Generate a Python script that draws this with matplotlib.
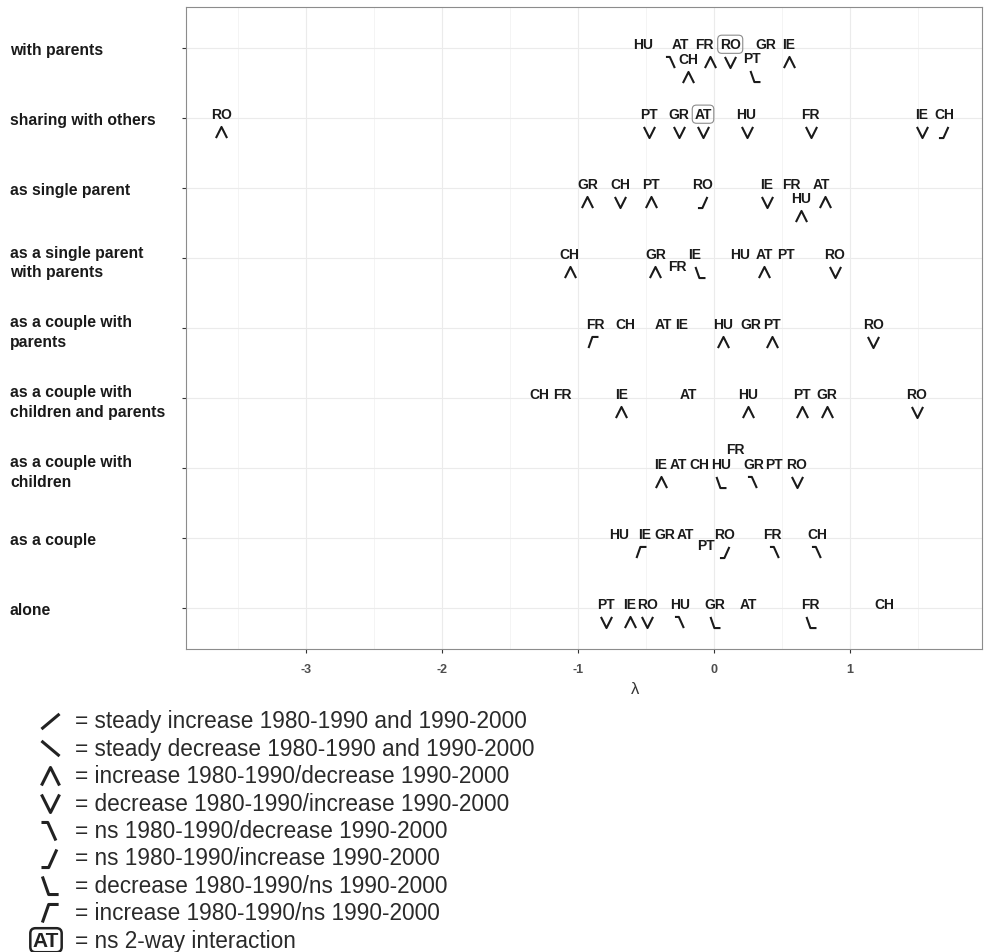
import numpy as np
import matplotlib
matplotlib.use("Agg")
import matplotlib.pyplot as plt
from matplotlib.path import Path
from matplotlib.transforms import offset_copy

plt.rcParams['font.family'] = ['Liberation Sans', 'DejaVu Sans']
plt.rcParams['axes.unicode_minus'] = False

# row categories, top to bottom
rows = ["with parents", "sharing with others", "as single parent",
        "as a single parent\nwith parents", "as a couple with\nparents",
        "as a couple with\nchildren and parents", "as a couple with\nchildren",
        "as a couple", "alone"]

# one entry per country label
lab_row = [0] * 8 + [1] * 8 + [2] * 8 + [3] * 8 + [4] * 8 + [5] * 8 + [6] * 8 + [7] * 8 + [8] * 8
lab_code = ["HU", "AT", "FR", "RO", "GR", "IE", "CH", "PT",
            "RO", "PT", "GR", "AT", "HU", "FR", "IE", "CH",
            "GR", "CH", "PT", "RO", "IE", "FR", "HU", "AT",
            "CH", "GR", "FR", "IE", "HU", "AT", "PT", "RO",
            "FR", "CH", "AT", "IE", "HU", "GR", "PT", "RO",
            "CH", "FR", "IE", "AT", "HU", "PT", "GR", "RO",
            "IE", "AT", "CH", "HU", "FR", "GR", "PT", "RO",
            "HU", "IE", "GR", "AT", "PT", "RO", "FR", "CH",
            "PT", "IE", "RO", "HU", "GR", "AT", "FR", "CH"]
lab_lambda = [-0.52, -0.25, -0.07, 0.12, 0.38, 0.55, -0.19, 0.28,
              -3.62, -0.48, -0.26, -0.08, 0.24, 0.71, 1.53, 1.69,
              -0.93, -0.69, -0.46, -0.08, 0.39, 0.57, 0.64, 0.79,
              -1.06, -0.43, -0.27, -0.14, 0.19, 0.37, 0.53, 0.89,
              -0.87, -0.65, -0.37, -0.24, 0.07, 0.27, 0.43, 1.17,
              -1.28, -1.11, -0.68, -0.19, 0.25, 0.65, 0.83, 1.49,
              -0.39, -0.26, -0.11, 0.05, 0.16, 0.29, 0.44, 0.61,
              -0.70, -0.51, -0.36, -0.21, -0.06, 0.08, 0.43, 0.76,
              -0.79, -0.62, -0.49, -0.25, 0.01, 0.25, 0.71, 1.25]
lab_trend = [None, "nsdec", "peak", "valley", None, "peak", "peak", "decns",
             "peak", "valley", "valley", "valley", "valley", "valley", "valley", "nsinc",
             "peak", "valley", "peak", "nsinc", "valley", None, "peak", "peak",
             "peak", "peak", None, "decns", None, "peak", None, "valley",
             "incns", None, None, None, "peak", None, "peak", "valley",
             None, None, "peak", None, "peak", "peak", "peak", "valley",
             "peak", None, None, "decns", None, "nsdec", None, "valley",
             None, "incns", None, None, None, "nsinc", "nsdec", "nsdec",
             "valley", "peak", "valley", "nsdec", "decns", None, "decns", None]
boxed = [(0, "RO"), (1, "AT")]

# label placement tweaks (pixels): vertical push-down and symbol x nudge
lab_shift = {(0, "CH"): 15, (0, "PT"): 14, (2, "HU"): 14, (3, "FR"): 12,
             (6, "FR"): -15, (7, "PT"): 11}
sym_dx = {(0, "AT"): -9, (0, "FR"): 6, (0, "PT"): 3, (2, "AT"): 4,
          (3, "IE"): 5, (4, "FR"): -3, (7, "IE"): -4, (7, "FR"): 3}

legend_keys = ["steadyinc", "steadydec", "peak", "valley", "nsdec",
               "nsinc", "decns", "incns", "box"]
legend_text = ["steady increase 1980-1990 and 1990-2000",
               "steady decrease 1980-1990 and 1990-2000",
               "increase 1980-1990/decrease 1990-2000",
               "decrease 1980-1990/increase 1990-2000",
               "ns 1980-1990/decrease 1990-2000",
               "ns 1980-1990/increase 1990-2000",
               "decrease 1980-1990/ns 1990-2000",
               "increase 1980-1990/ns 1990-2000",
               "ns 2-way interaction"]

# trend glyphs as open paths
glyphs = {
    "steadyinc": [(-0.5, -0.42), (0.5, 0.42)],
    "steadydec": [(-0.5, 0.42), (0.5, -0.42)],
    "peak": [(-0.5, -0.5), (0.0, 0.5), (0.5, -0.5)],
    "valley": [(-0.5, 0.5), (0.0, -0.5), (0.5, 0.5)],
    "nsdec": [(-0.5, 0.5), (-0.15, 0.5), (0.3, -0.5)],
    "nsinc": [(-0.5, -0.5), (-0.1, -0.5), (0.35, 0.5)],
    "decns": [(-0.45, 0.5), (-0.1, -0.5), (0.45, -0.5)],
    "incns": [(-0.45, -0.5), (-0.1, 0.5), (0.45, 0.5)],
}
markers = {k: Path(v) for k, v in glyphs.items()}

ink = '#1a1a1a'
fig = plt.figure(figsize=(9.85, 9.53), dpi=100)
ax = fig.add_axes([0.1888, 0.318, 0.8081, 0.6736])

n = len(rows)
ypos = {i: n - 1 - i for i in range(n)}

for r, code, lam, trend in zip(lab_row, lab_code, lab_lambda, lab_trend):
    y = ypos[r]
    shift = lab_shift.get((r, code), 0)
    box = None
    if (r, code) in boxed:
        box = dict(boxstyle='round,pad=0.15,rounding_size=0.3', fc='none', ec='#8c8c8c', lw=0.8)
    ax.annotate(code, (lam, y), xytext=(0, (4 - shift) * 0.72), textcoords='offset points',
                ha='center', va='center', fontsize=10, fontweight='bold', color=ink, bbox=box)
    if trend:
        tr = offset_copy(ax.transData, fig=fig, x=sym_dx.get((r, code), 0),
                         y=-(14 + shift), units='dots')
        ax.plot([lam], [y], marker=markers[trend], ms=8, mfc='none', mec=ink,
                mew=1.5, ls='none', transform=tr)

ax.set_xlim(-3.88, 1.97)
ax.set_ylim(-0.59, n - 1 + 0.59)
ax.set_xticks([-3, -2, -1, 0, 1])
ax.set_xticks(np.arange(-3.5, 2, 1), minor=True)
ax.set_yticks([ypos[i] for i in range(n)])
ax.set_yticklabels(rows, fontsize=11.3, fontweight='bold', color=ink, linespacing=1.4)
for lab in ax.get_yticklabels():
    lab.set_ha('left')
for lab in ax.get_xticklabels():
    lab.set_fontweight('bold')
ax.tick_params(axis='y', length=3, pad=123.7, color='#333333')
ax.tick_params(axis='x', length=3, pad=7, labelsize=9, labelcolor='#4d4d4d', color='#333333')
ax.tick_params(which='minor', length=0)
ax.set_xlabel('λ', fontsize=12, color='#333333')
ax.xaxis.set_label_coords(0.564, -0.05)

ax.grid(which='major', color='#ebebeb', lw=0.8)
ax.grid(which='minor', axis='x', color='#f3f3f3', lw=0.6)
ax.set_axisbelow(True)
for s in ax.spines.values():
    s.set_color('#8c8c8c')
    s.set_linewidth(0.8)

# legend below the plot, drawn on a pixel-scaled overlay
lg = fig.add_axes([0, 0, 1, 1])
lg.set_xlim(0, 985)
lg.set_ylim(953, 0)
lg.axis('off')
for i, (key, txt) in enumerate(zip(legend_keys, legend_text)):
    y = 722 + i * 27.4
    if key == 'box':
        lg.text(46, y, 'AT', ha='center', va='center', fontsize=15, fontweight='bold',
                color='#222222', bbox=dict(boxstyle='round,pad=0.12,rounding_size=0.25',
                                           fc='none', ec='#222222', lw=1.8))
    else:
        lg.plot([50], [y], marker=markers[key], ms=13, mfc='none', mec='#222222',
                mew=2.2, ls='none')
    lg.text(75, y, '= ' + txt, ha='left', va='center', fontsize=16.3, color='#2a2a2a')

fig.savefig('out.png', dpi=100)
